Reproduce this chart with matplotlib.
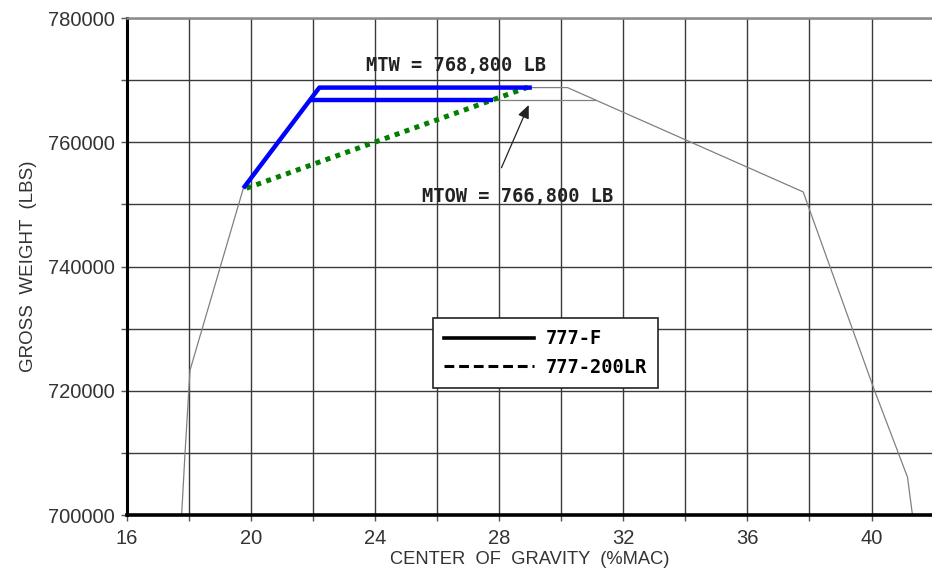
import matplotlib
matplotlib.use("Agg")
from matplotlib import pyplot as plt
from matplotlib.lines import Line2D
from matplotlib.ticker import MultipleLocator

# Огибающая (серая тонкая линия)
env_cg = [17.76, 17.87, 18.03, 19.75, 22.2, 30.2, 37.8, 37.94, 40.1, 41.16, 41.32]
env_wt = [700000, 710000, 723300, 752600, 768800, 768800, 752000, 750000, 720000, 706100, 700000]

# Линия MTOW на огибающей
mtow_cg = [21.9, 31.1]
mtow_wt = [766800, 766800]

# 777-F (синие линии)
f_cg = [19.75, 22.2, 29.05]
f_wt = [752600, 768800, 768800]
f2_cg = [21.9, 27.8]
f2_wt = [766800, 766800]

# 777-200LR (зеленый пунктир)
lr_cg = [19.85, 29.0]
lr_wt = [752600, 769000]

x_ticks = [16, 20, 24, 28, 32, 36, 40]
y_ticks = [700000, 720000, 740000, 760000, 780000]

mono = "DejaVu Sans Mono"
sans = "Liberation Sans"

fig = plt.figure(figsize=(9.32, 5.68), dpi=100)
ax = fig.add_axes([0.1363, 0.0933, 0.8637, 0.875])

ax.set_xlim(16, 41.95)
ax.set_ylim(700000, 780000)

# сетка
ax.xaxis.set_major_locator(MultipleLocator(4))
ax.xaxis.set_minor_locator(MultipleLocator(2))
ax.yaxis.set_major_locator(MultipleLocator(20000))
ax.yaxis.set_minor_locator(MultipleLocator(10000))
ax.grid(True, which="both", color="#3a3a3a", linewidth=1.0)
ax.set_axisbelow(True)

ax.plot(env_cg, env_wt, color="#808080", linewidth=0.9, zorder=2)
ax.plot(mtow_cg, mtow_wt, color="#808080", linewidth=0.9, zorder=2)

ax.plot(f_cg, f_wt, color="#0000ff", linewidth=3.2, solid_capstyle="butt", zorder=4)
ax.plot(f2_cg, f2_wt, color="#0000ff", linewidth=3.2, solid_capstyle="butt", zorder=4)
ax.plot(lr_cg, lr_wt, color="#008000", linewidth=3.6, linestyle=(0, (1, 1.1)),
        dash_capstyle="butt", zorder=3)

# подписи
ax.text(26.62, 772300, "MTW = 768,800 LB", family=mono, fontsize=13.5,
        fontweight="bold", color="#222222", ha="center", va="center")
ax.text(28.6, 751300, "MTOW = 766,800 LB", family=mono, fontsize=13.5,
        fontweight="bold", color="#222222", ha="center", va="center")
# стрелка к линии MTOW
ax.annotate("", xy=(28.95, 766000), xytext=(28.07, 755900),
            arrowprops=dict(arrowstyle="-|>,head_length=0.8,head_width=0.35",
                            color="#222222", linewidth=0.9, shrinkA=0, shrinkB=0))

handles = [Line2D([], [], color="black", linewidth=2.6),
           Line2D([], [], color="black", linewidth=2.2, dashes=(3.2, 1.6))]
leg = ax.legend(handles, ["777-F", "777-200LR"], loc="upper left",
                bbox_to_anchor=(0.38, 0.396), borderaxespad=0, fancybox=False,
                framealpha=1, edgecolor="#222222", handlelength=4.8,
                borderpad=0.6, labelspacing=0.5, handletextpad=0.6,
                prop=dict(family=mono, size=13.5, weight="bold"))
leg.get_frame().set_linewidth(1.2)
leg.set_zorder(6)

# оси
ax.set_xticks(x_ticks)
ax.set_yticks(y_ticks)
ax.set_xticklabels([str(v) for v in x_ticks], family=sans, fontsize=14.5, color="#333333")
ax.set_yticklabels([str(v) for v in y_ticks], family=sans, fontsize=14.5, color="#333333")
ax.tick_params(which="both", direction="out", length=4, width=1, color="#555555")
ax.tick_params(axis="x", pad=6)
ax.tick_params(axis="y", pad=5)

ax.set_xlabel("CENTER  OF  GRAVITY  (%MAC)", family=sans, fontsize=13.2,
              color="#333333", labelpad=2)
ax.set_ylabel("GROSS  WEIGHT  (LBS)", family=sans, fontsize=13.5, color="#333333",
              labelpad=8)

ax.spines["right"].set_visible(False)
ax.spines["left"].set_linewidth(2.2)
ax.spines["bottom"].set_linewidth(2.6)
ax.spines["top"].set_color("#8a8a8a")
ax.spines["top"].set_linewidth(1.8)

fig.savefig("out.png", dpi=100)
